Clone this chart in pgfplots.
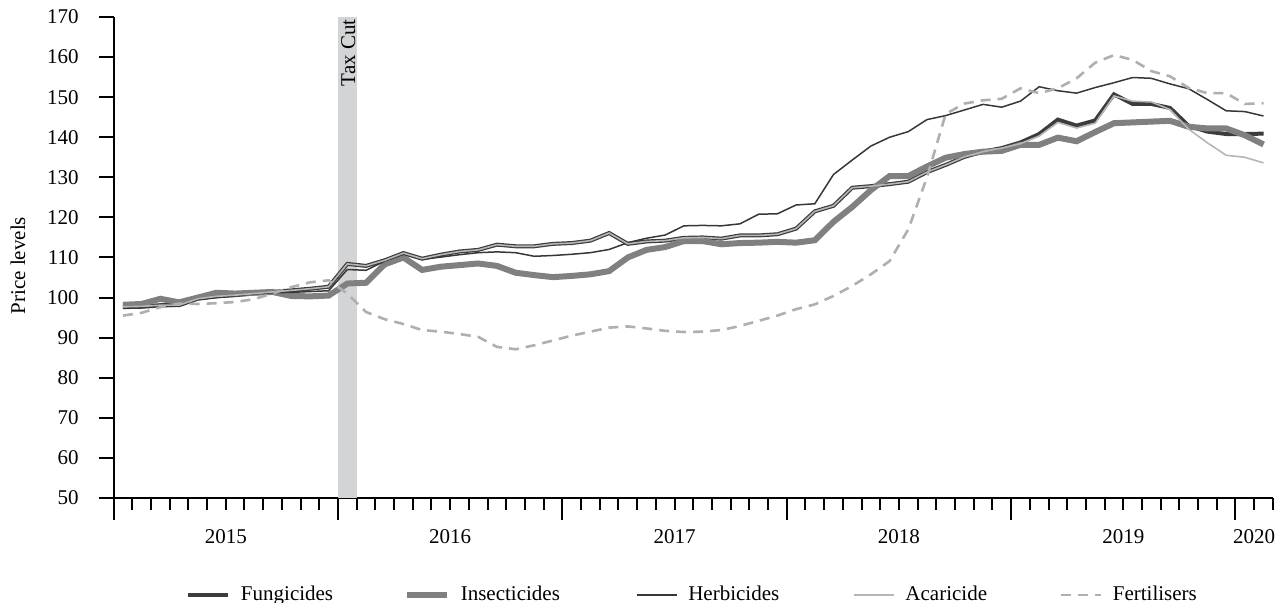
\documentclass[border=0pt]{standalone}
\usepackage{fontspec}
\setmainfont{Liberation Serif}
\usepackage{pgfplots}
\usepackage{pgfplotstable}
\pgfplotsset{compat=1.18}
\definecolor{fung}{RGB}{60,60,60}
\definecolor{insect}{RGB}{128,128,128}
\definecolor{herb}{RGB}{55,55,55}
\definecolor{acar}{RGB}{182,182,182}
\definecolor{fert}{RGB}{175,175,175}
\definecolor{band}{RGB}{211,212,214}

\pgfplotstableread{
k F A H I R
0 97.7 97.7 97.3 98.2 95.5
1 97.8 97.8 97.4 98.4 96.2
2 98.1 98.1 97.7 99.7 97.6
3 98.1 98.1 97.9 98.8 98.5
4 99.7 99.7 99.5 100.0 98.4
5 100.3 100.3 100.0 101.2 98.6
6 100.6 100.6 100.4 101.0 98.9
7 101.0 101.0 100.9 101.2 99.6
8 101.4 101.4 101.2 101.4 101.0
9 101.8 101.8 101.3 100.4 102.6
10 102.2 102.2 101.5 100.3 103.8
11 102.7 102.7 101.7 100.5 104.3
12 108.4 108.4 107.0 103.5 101.0
13 107.9 107.9 106.8 103.7 96.4
14 109.3 109.3 109.1 108.3 94.6
15 111.1 111.1 110.8 110.0 93.4
16 109.7 109.7 109.5 106.9 91.9
17 110.7 110.7 110.1 107.7 91.5
18 111.5 111.5 110.7 108.1 90.9
19 111.9 111.9 111.2 108.5 90.2
20 113.2 113.2 111.4 107.9 87.7
21 112.8 112.8 111.2 106.2 87.1
22 112.8 112.8 110.3 105.6 88.1
23 113.4 113.4 110.5 105.1 89.3
24 113.6 113.6 110.8 105.4 90.5
25 114.2 114.2 111.2 105.8 91.5
26 116.1 116.1 112.0 106.6 92.5
27 113.4 113.4 113.7 110.0 92.8
28 114.0 114.0 114.8 111.9 92.3
29 114.2 114.2 115.6 112.6 91.7
30 114.9 114.9 117.9 114.1 91.4
31 115.0 115.0 118.0 114.1 91.5
32 114.7 114.7 117.9 113.3 91.9
33 115.5 115.5 118.4 113.6 92.9
34 115.5 115.5 120.8 113.7 94.2
35 115.8 115.8 120.9 113.9 95.5
36 117.2 117.2 123.1 113.7 97.1
37 121.5 121.5 123.4 114.3 98.3
38 122.9 122.9 130.7 118.9 100.4
39 127.4 127.4 134.3 122.6 102.9
40 127.8 127.8 137.8 126.8 105.8
41 128.3 128.3 140.0 130.3 109.1
42 128.9 128.9 141.4 130.3 117.0
43 131.3 131.3 144.4 132.7 130.0
44 133.1 133.1 145.4 134.9 145.8
45 135.1 135.1 146.8 135.8 148.4
46 136.4 136.4 148.2 136.4 149.2
47 137.3 137.3 147.5 136.6 149.6
48 138.7 138.4 149.0 138.1 152.2
49 140.8 140.3 152.6 138.1 151.0
50 144.4 143.7 151.6 139.9 152.2
51 142.9 142.3 151.0 139.0 154.7
52 144.2 143.5 152.4 141.3 158.6
53 150.7 150.3 153.6 143.5 160.5
54 148.3 149.0 154.9 143.7 159.3
55 148.3 148.8 154.7 143.9 156.5
56 147.3 146.9 153.3 144.1 155.2
57 142.8 142.0 152.1 142.6 152.3
58 141.4 138.6 149.4 142.2 151.0
59 140.8 135.5 146.6 142.2 151.0
60 140.8 135.0 146.4 140.5 148.3
61 140.9 133.6 145.3 138.2 148.5
}\data

\begin{document}
\begin{tikzpicture}
\path[use as bounding box] (0,0) rectangle (640.5pt,301.5pt);
\begin{axis}[
  at={(56.8pt,52.5pt)}, anchor=south west,
  scale only axis, width=579.65pt, height=240.5pt,
  xmin=-0.5, xmax=61.5, ymin=50, ymax=170,
  axis lines=left,
  axis line style={-, line width=1pt, black},
  tick align=outside,
  every tick/.style={line width=1pt, black},
  major tick length=7.5pt,
  minor tick length=6pt,
  ytick={50,60,...,170},
  xtick={-0.5,11.5,23.5,35.5,47.5,59.5},
  xticklabels={},
  xtick style={/pgfplots/major tick length=11pt},
  minor xtick={0.5,1.5,...,61.5},
  extra x ticks={5.5,17.5,29.5,41.5,53.5,60.5},
  extra x tick labels={2015,2016,2017,2018,2019,2020},
  extra x tick style={tick style={draw=none}},
  /pgf/number format/assume math mode=true,
  /pgf/number format/1000 sep={},
  tick label style={font=\fontsize{10.5}{12}\selectfont},
  xticklabel style={yshift=-4.5pt},
  yticklabel style={xshift=-6.5pt},
  ylabel={Price levels},
  ylabel style={at={(axis description cs:-0.0825,0.483)}, anchor=center, font=\fontsize{10.5}{12}\selectfont},
  legend columns=5,
  legend style={at={(axis description cs:0.0621,-0.2017)}, anchor=west, draw=none, fill=none, inner sep=0pt,
     font=\fontsize{10.5}{12}\selectfont, /tikz/every even column/.append style={column sep=0pt}},
  legend image code/.code={\draw[#1] (0pt,0pt) -- (20pt,0pt);},
  clip=false,
]
\fill[band] (axis cs:11.5,50) rectangle (axis cs:12.5,170);
\node[rotate=90, anchor=east, inner sep=1pt, font=\fontsize{10.5}{12}\selectfont] at (axis cs:12.05,170) {Tax Cut};
\addplot[fung, line width=2pt] table[x=k,y=F] {\data};
\addlegendentry{\hspace*{3.5pt}\makebox[79.4pt][l]{Fungicides}}
\addplot[insect, line width=3pt] table[x=k,y=I] {\data};
\addlegendentry{\hspace*{3.5pt}\makebox[85.5pt][l]{Insecticides}}
\addplot[herb, line width=0.75pt] table[x=k,y=H] {\data};
\addlegendentry{\hspace*{3.5pt}\makebox[80.3pt][l]{Herbicides}}
\addplot[acar, line width=0.8pt] table[x=k,y=A] {\data};
\addlegendentry{\hspace*{3.5pt}\makebox[74.9pt][l]{Acaricide}}
\addplot[fert, line width=1.3pt, dash pattern=on 5pt off 3.5pt] table[x=k,y=R] {\data};
\addlegendentry{\hspace*{3.5pt}Fertilisers}
\end{axis}
\end{tikzpicture}
\end{document}
